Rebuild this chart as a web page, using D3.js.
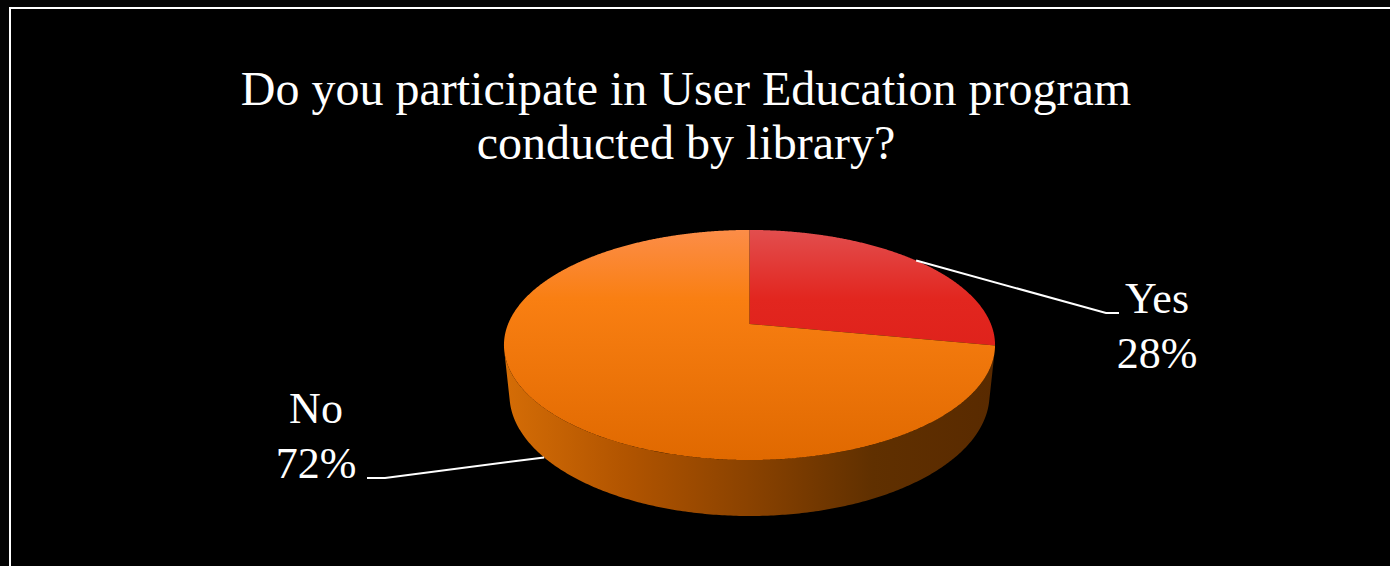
<!DOCTYPE html>
<html>
<head>
<meta charset="utf-8">
<script src="https://cdn.jsdelivr.net/npm/d3@7"></script>
<style>
  html, body { margin: 0; padding: 0; background: #040404; }
  svg { display: block; }
</style>
</head>
<body>
<script>
// Survey answers
const categories = ["Yes", "No"];
const values = [28, 72];
const titleLines = ["Do you participate in User Education program", "conducted by library?"];

// Palette: [light, mid, dark] for each slice's top face
const topPalette = [
  ["#e24e4e", "#e2261f", "#d81913"],
  ["#fc8d48", "#f97f12", "#e06900"]
];
const sidePalette = ["#d56d06", "#b15400", "#8a4200", "#603000", "#592a00"];

const W = 1390, H = 566;
const svg = d3.select("body").append("svg").attr("width", W).attr("height", H);

svg.append("rect").attr("x", 10).attr("y", 8).attr("width", W + 20).attr("height", H + 20)
  .attr("fill", "#000").attr("stroke", "#fff").attr("stroke-width", 2);

// Title
const title = svg.append("text")
  .attr("text-anchor", "middle")
  .attr("fill", "#fff")
  .style("font-family", "'Liberation Serif', 'Times New Roman', serif")
  .style("font-size", "48px");
title.selectAll("tspan").data(titleLines).join("tspan")
  .attr("x", 686)
  .attr("y", (d, i) => 105 + i * 54)
  .text(d => d);

// 3D perspective camera for a tilted pie (unit radius disk, depth h)
const cam = { cx: 749.5, cy: 324, f: 1173.5, dist: 4.861, phi: Math.asin(0.4607), h: 0.2332 };
const sinP = Math.sin(cam.phi), cosP = Math.cos(cam.phi);
function project(a, r, y) {
  const X = r * Math.sin(a), Z = r * Math.cos(a);
  const yc = y * cosP + Z * sinP;
  const dc = -y * sinP + Z * cosP + cam.dist;
  return [cam.cx + cam.f * X / dc, cam.cy - cam.f * yc / dc];
}

const pie = d3.pie().sort(null).value(d => d.value);
const arcs = pie(categories.map((c, i) => ({ name: c, value: values[i], idx: i })));

// Extents of the projected disk for the gradients
const topY = project(0, 1, 0)[1];
const botY = project(Math.PI, 1, 0)[1];
let minX = Infinity, maxX = -Infinity;
for (let t = 0; t < 2 * Math.PI; t += 0.005) {
  const p = project(t, 1, 0);
  minX = Math.min(minX, p[0]); maxX = Math.max(maxX, p[0]);
}

const defs = svg.append("defs");
arcs.forEach((d, i) => {
  const g = defs.append("linearGradient").attr("id", "top" + i)
    .attr("gradientUnits", "userSpaceOnUse")
    .attr("x1", 0).attr("x2", 0).attr("y1", topY).attr("y2", botY);
  const pal = topPalette[i];
  g.append("stop").attr("offset", 0).attr("stop-color", pal[0]);
  g.append("stop").attr("offset", 0.3).attr("stop-color", pal[1]);
  g.append("stop").attr("offset", 1).attr("stop-color", pal[2]);
});
const sg = defs.append("linearGradient").attr("id", "side")
  .attr("gradientUnits", "userSpaceOnUse")
  .attr("x1", minX).attr("x2", maxX).attr("y1", 0).attr("y2", 0);
sidePalette.forEach((c, k) => sg.append("stop").attr("offset", k / (sidePalette.length - 1)).attr("stop-color", c));

// Outer walls: front-facing quads only
function sidePath(d) {
  const n = Math.max(2, Math.ceil((d.endAngle - d.startAngle) / 0.01));
  let path = "";
  for (let k = 0; k < n; k++) {
    const t0 = d.startAngle + (d.endAngle - d.startAngle) * k / n;
    const t1 = d.startAngle + (d.endAngle - d.startAngle) * (k + 1) / n;
    const q = [project(t0, 1, 0), project(t1, 1, 0), project(t1, 1, -cam.h), project(t0, 1, -cam.h)];
    let area = 0;
    for (let j = 0; j < 4; j++) {
      const a = q[j], b = q[(j + 1) % 4];
      area += a[0] * b[1] - b[0] * a[1];
    }
    if (area < 0.05) path += "M" + q.map(p => p.join(",")).join("L") + "Z";
  }
  return path;
}
function topPath(d) {
  const n = Math.max(2, Math.ceil((d.endAngle - d.startAngle) / 0.005));
  const pts = [project(0, 0, 0)];
  for (let k = 0; k <= n; k++) {
    pts.push(project(d.startAngle + (d.endAngle - d.startAngle) * k / n, 1, 0));
  }
  return "M" + pts.map(p => p.join(",")).join("L") + "Z";
}

const pieG = svg.append("g");
pieG.selectAll("path.side").data(arcs).join("path")
  .attr("class", "side")
  .attr("d", sidePath)
  .attr("fill", "url(#side)");
pieG.selectAll("path.top").data(arcs).join("path")
  .attr("class", "top")
  .attr("d", topPath)
  .attr("fill", (d, i) => "url(#top" + i + ")");

// Data labels with leader lines
const labelLayout = [
  { x: 1157, y: 313, elbow: [1106, 313], end: [1119, 313] },
  { x: 316, y: 423, elbow: [385, 478], end: [367, 478] }
];
const fmt = d3.format(".0%");
const total = d3.sum(values);
arcs.forEach((d, i) => {
  const mid = (d.startAngle + d.endAngle) / 2;
  const front = Math.cos(mid) < 0;
  const anchor = project(mid, 1, front ? -cam.h : 0);
  const L = labelLayout[i];
  svg.append("path")
    .attr("d", d3.line()([anchor, L.elbow, L.end]))
    .attr("fill", "none").attr("stroke", "#fff").attr("stroke-width", 2);
  const t = svg.append("text")
    .attr("text-anchor", "middle")
    .attr("fill", "#fff")
    .style("font-family", "'Liberation Serif', 'Times New Roman', serif")
    .style("font-size", "44px");
  t.append("tspan").attr("x", L.x).attr("y", L.y).text(d.data.name);
  t.append("tspan").attr("x", L.x).attr("y", L.y + 55).text(fmt(d.data.value / total));
});
</script>
</body>
</html>
